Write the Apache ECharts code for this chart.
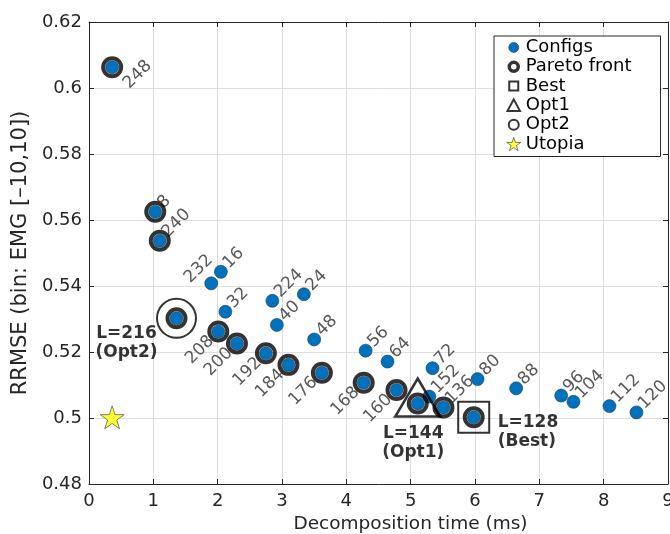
<!DOCTYPE html>
<html>
<head>
<meta charset="utf-8">
<script src="https://cdn.jsdelivr.net/npm/echarts@6/dist/echarts.min.js"></script>
<style>
  html, body { margin: 0; padding: 0; background: #fff; }
  #chart { width: 670px; height: 534px; }
</style>
</head>
<body>
<div id="chart"></div>
<script>
// window length L of each configuration
const configL = [8, 16, 24, 32, 40, 48, 56, 64, 72, 80, 88, 96, 104, 112, 120,
  128, 136, 144, 152, 160, 168, 176, 184, 192, 200, 208, 216, 224, 232, 240, 248];
// decomposition time (ms)
const decompTime = [1.03, 2.05, 3.34, 2.12, 2.92, 3.50, 4.30, 4.64, 5.34, 6.04, 6.64, 7.34, 7.53, 8.09, 8.51,
  5.98, 5.51, 5.11, 5.29, 4.78, 4.27, 3.62, 3.10, 2.75, 2.30, 2.01, 1.36, 2.85, 1.90, 1.10, 0.36];
// RRMSE
const rrmse = [0.5625, 0.5443, 0.5375, 0.5322, 0.5282, 0.5238, 0.5204, 0.5171, 0.5151, 0.5118, 0.5090, 0.5068, 0.5049, 0.5036, 0.5017,
  0.5002, 0.5032, 0.5044, 0.5065, 0.5085, 0.5107, 0.5137, 0.5161, 0.5196, 0.5226, 0.5262, 0.5302, 0.5355, 0.5408, 0.5537, 0.6063];
const paretoL = [248, 8, 240, 216, 208, 200, 192, 184, 176, 168, 160, 144, 136, 128];
const bestL = 128;
const opt1L = 144;
const opt2L = 216;
const utopia = [0.36, 0.5002];
const xRange = [0, 9, 1];
const yRange = [0.48, 0.62, 0.02];

// labels drawn below-left of the point
const lowerLeft = [208, 200, 192, 184, 176, 168, 160];
// a few labels sit somewhere else (pixel shift of the label start)
const labelShift = {248: [14, 19], 232: [-24, -3]};

function pointOf(L) {
  const i = configL.indexOf(L);
  return [decompTime[i], rrmse[i]];
}
function mid(r) {
  return [r.x + r.width / 2, r.y + r.height / 2];
}

const AX = '#262626';
const starPath = 'path://M50,0L61.23,34.55L97.55,34.55L68.17,55.9L79.39,90.45L50,69.1L20.61,90.45L31.83,55.9L2.45,34.55L38.77,34.55Z';
const box = 'M0,0M14,14';

let chart = echarts.init(document.getElementById('chart'));

const axisCommon = {
  type: 'value',
  axisLine: {show: true, onZero: false, lineStyle: {color: AX, width: 1}},
  axisTick: {show: true, inside: true, length: 5, lineStyle: {color: AX}},
};

chart.setOption({
  animation: false,
  textStyle: {fontFamily: 'DejaVu Sans'},
  grid: {left: 89, right: 2, top: 22, bottom: 50, containLabel: false, outerBoundsMode: 'none'},
  legend: {
    orient: 'vertical',
    left: 494,
    top: 36,
    padding: [2, 29, 3, 11],
    itemWidth: 14,
    itemHeight: 14,
    itemGap: 0.3,
    backgroundColor: '#fff',
    borderColor: AX,
    borderWidth: 1,
    borderRadius: 0,
    selectedMode: false,
    textStyle: {fontSize: 18, color: '#000', lineHeight: 19},
    data: [
      {name: 'Configs', icon: 'path://' + box + 'M12,7A5,5,0,1,1,2,7A5,5,0,1,1,12,7Z',
        itemStyle: {color: '#0072BD', borderColor: '#1f3a52', borderWidth: 0.6}},
      {name: 'Pareto front', icon: 'path://' + box + 'M11.5,7A4.5,4.5,0,1,1,2.5,7A4.5,4.5,0,1,1,11.5,7Z',
        itemStyle: {color: '#fff', borderColor: '#000', borderWidth: 3.5}},
      {name: 'Best', icon: 'path://' + box + 'M2.5,2.5L11.5,2.5L11.5,11.5L2.5,11.5Z',
        itemStyle: {color: '#fff', borderColor: '#000', borderWidth: 2}},
      {name: 'Opt1', icon: 'path://' + box + 'M7,1L13.2,12.5L0.8,12.5Z',
        itemStyle: {color: '#fff', borderColor: '#000', borderWidth: 2}},
      {name: 'Opt2', icon: 'path://' + box + 'M12,7A5,5,0,1,1,2,7A5,5,0,1,1,12,7Z',
        itemStyle: {color: '#fff', borderColor: '#000', borderWidth: 2}},
      {name: 'Utopia', icon: starPath,
        itemStyle: {color: '#ffff00', borderColor: '#3a3a3a', borderWidth: 0.8}}
    ]
  },
  xAxis: [
    Object.assign({}, axisCommon, {
      position: 'bottom', min: xRange[0], max: xRange[1], interval: xRange[2],
      name: 'Decomposition time (ms)', nameLocation: 'middle', nameGap: 27,
      nameTextStyle: {fontSize: 18.5, color: AX, padding: [0, 0, 0, 64]},
      axisLabel: {fontSize: 18, color: AX, margin: 8},
      splitLine: {show: true, lineStyle: {color: '#dfdfdf', width: 1}}
    }),
    Object.assign({}, axisCommon, {
      position: 'top', min: xRange[0], max: xRange[1], interval: xRange[2],
      axisLabel: {show: false}, splitLine: {show: false}
    })
  ],
  yAxis: [
    Object.assign({}, axisCommon, {
      position: 'left', min: yRange[0], max: yRange[1], interval: yRange[2],
      name: 'RRMSE (bin: EMG [–10,10])', nameLocation: 'middle', nameGap: 43,
      nameTextStyle: {fontSize: 21, color: AX},
      axisLabel: {fontSize: 18, color: AX, margin: 7},
      splitLine: {show: true, lineStyle: {color: '#dfdfdf', width: 1}}
    }),
    Object.assign({}, axisCommon, {
      position: 'right', min: yRange[0], max: yRange[1], interval: yRange[2],
      axisLabel: {show: false}, splitLine: {show: false}
    })
  ],
  series: [
    {
      name: 'Configs',
      type: 'scatter',
      z: 2,
      symbol: 'circle',
      symbolSize: 13,
      data: configL.map((L, i) => ({name: String(L), value: [decompTime[i], rrmse[i]]})),
      itemStyle: {color: '#0072BD', borderColor: '#1f3a52', borderWidth: 0.6, opacity: 1},
      label: {
        show: true,
        fontSize: 17,
        color: '#595959',
        formatter: p => [bestL, opt1L, opt2L].indexOf(+p.name) >= 0 ? '' : p.name
      },
      labelLayout: function (p) {
        const c = mid(p.rect);
        const L = configL[p.dataIndex];
        if (lowerLeft.indexOf(L) >= 0) {
          return {x: c[0] - 7, y: c[1] + 7, rotate: 45, align: 'right', verticalAlign: 'middle'};
        }
        const s = labelShift[L] || [5, -6];
        return {x: c[0] + s[0], y: c[1] + s[1], rotate: 45, align: 'left', verticalAlign: 'middle'};
      },
      emphasis: {disabled: true}
    },
    {
      name: 'Pareto front',
      type: 'scatter',
      z: 3,
      symbol: 'circle',
      symbolSize: 18,
      data: paretoL.map(pointOf),
      itemStyle: {color: 'rgba(0,0,0,0)', borderColor: '#000', borderWidth: 4},
      emphasis: {disabled: true}
    },
    {
      name: 'Best',
      type: 'scatter',
      z: 4,
      symbol: 'rect',
      symbolSize: 31,
      data: [pointOf(bestL)],
      itemStyle: {color: 'rgba(0,0,0,0)', borderColor: '#000', borderWidth: 2},
      label: {show: true, formatter: 'L=' + bestL + '\n(Best)', fontSize: 17, fontWeight: 'bold', color: '#000', lineHeight: 19},
      labelLayout: function (p) {
        const c = mid(p.rect);
        return {x: c[0] + 24, y: c[1] + 15, align: 'left', verticalAlign: 'middle'};
      },
      emphasis: {disabled: true}
    },
    {
      name: 'Opt1',
      type: 'scatter',
      z: 4,
      symbol: 'triangle',
      symbolSize: [45, 38],
      symbolOffset: [0, -6],
      data: [pointOf(opt1L)],
      itemStyle: {color: 'rgba(0,0,0,0)', borderColor: '#000', borderWidth: 2.5},
      label: {show: true, formatter: 'L=' + opt1L + '\n(Opt1)', fontSize: 17, fontWeight: 'bold', color: '#000', lineHeight: 19},
      labelLayout: function (p) {
        const c = mid(p.rect);
        return {x: c[0] - 4.5, y: c[1] + 46, align: 'center', verticalAlign: 'middle'};
      },
      emphasis: {disabled: true}
    },
    {
      name: 'Opt2',
      type: 'scatter',
      z: 4,
      symbol: 'circle',
      symbolSize: 39,
      data: [pointOf(opt2L)],
      itemStyle: {color: 'rgba(0,0,0,0)', borderColor: '#000', borderWidth: 2},
      label: {show: true, formatter: 'L=' + opt2L + '\n(Opt2)', fontSize: 17, fontWeight: 'bold', color: '#000', lineHeight: 19},
      labelLayout: function (p) {
        const c = mid(p.rect);
        return {x: c[0] - 50, y: c[1] + 25, align: 'center', verticalAlign: 'middle'};
      },
      emphasis: {disabled: true}
    },
    {
      name: 'Utopia',
      type: 'scatter',
      z: 4,
      symbol: starPath,
      symbolSize: [24, 23],
      data: [utopia],
      itemStyle: {color: '#ffff00', borderColor: '#3a3a3a', borderWidth: 0.8},
      emphasis: {disabled: true}
    }
  ]
});
</script>
</body>
</html>
